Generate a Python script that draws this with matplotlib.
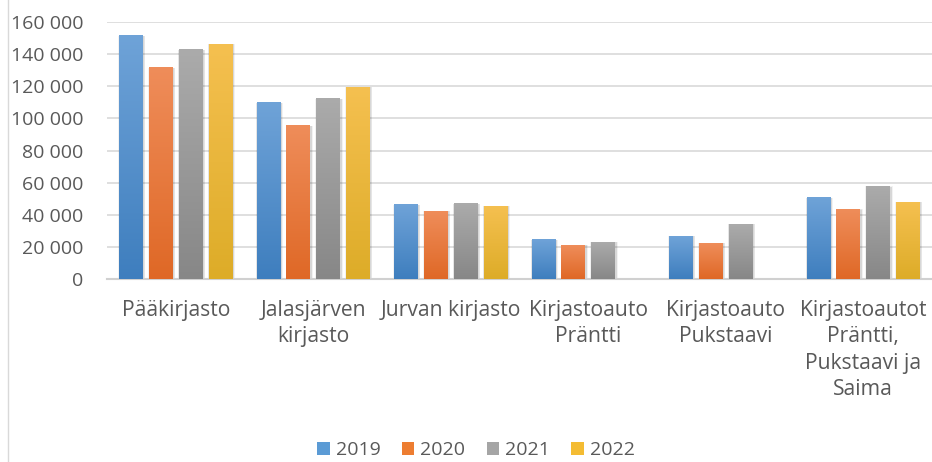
import numpy as np
import matplotlib
matplotlib.use("Agg")
import matplotlib.pyplot as plt
from matplotlib.ticker import FuncFormatter
from matplotlib.colors import LinearSegmentedColormap
from matplotlib.patches import Rectangle

plt.rcParams['font.family'] = ['Open Sans', 'DejaVu Sans']

# data
categories = ["Pääkirjasto", "Jalasjärven\nkirjasto", "Jurvan kirjasto",
              "Kirjastoauto\nPräntti", "Kirjastoauto\nPukstaavi",
              "Kirjastoautot\nPräntti,\nPukstaavi ja\nSaima"]
years = ["2019", "2020", "2021", "2022"]
v2019 = [151300, 109600, 46100, 24300, 26600, 50600]
v2020 = [131400, 95300, 42300, 21000, 22200, 43200]
v2021 = [142600, 112100, 46700, 23000, 34200, 57500]
v2022 = [146300, 119500, 45400, 0, 0, 47900]
series = [v2019, v2020, v2021, v2022]

# (top colour, bottom colour) of the gradient fill
colors = [("#6FA3D8", "#3E7EBE"),
          ("#EF8D5A", "#DF6826"),
          ("#ABABAB", "#878787"),
          ("#F5C050", "#DDAC28")]
legend_colors = ["#5B9BD5", "#ED7D31", "#A5A5A5", "#F4BC33"]

fig = plt.figure(figsize=(9.32, 4.62), dpi=100)
ax = fig.add_axes([107/932, 183/462, 825/932, 257/462])

x = np.arange(len(categories))
width = 0.174
offsets = np.array([-1.5, -0.5, 0.5, 1.5]) * 0.217

grad = np.linspace(0, 1, 256).reshape(-1, 1)
for i, vals in enumerate(series):
    cmap = LinearSegmentedColormap.from_list("g%d" % i, [colors[i][1], colors[i][0]])
    for xi, v in zip(x, vals):
        if v <= 0:
            continue
        x0 = xi + offsets[i] - width / 2
        # soft shadow
        for k, a in enumerate([0.05, 0.05, 0.06]):
            pad = (3 - k) * 0.004
            ax.add_patch(Rectangle((x0 - pad + 0.006, -600), width + 2 * pad,
                                   v + 600 + pad * 9000, facecolor="black",
                                   alpha=a, edgecolor="none", zorder=2))
        ax.imshow(grad, extent=[x0, x0 + width, 0, v], origin="lower",
                  cmap=cmap, aspect="auto", zorder=3, interpolation="bilinear")

ax.set_xlim(-0.5, len(categories) - 0.5)
ax.set_ylim(0, 160000)
ax.set_yticks(np.arange(0, 160001, 20000))
ax.yaxis.set_major_formatter(FuncFormatter(lambda v, p: f"{int(v):,}".replace(",", " ")))
ax.yaxis.grid(True, color="#D9D9D9", linewidth=1.2)
ax.set_axisbelow(True)
for s in ["top", "right", "left"]:
    ax.spines[s].set_visible(False)
ax.spines["bottom"].set_color("#D0D0D0")
ax.spines["bottom"].set_linewidth(1.5)
ax.tick_params(axis="both", length=0, labelcolor="#595959")
ax.tick_params(axis="y", pad=17, labelsize=14)
ax.set_xticks(x)
ax.set_xticklabels(categories, linespacing=1.34, va="top")
ax.tick_params(axis="x", pad=15, labelsize=15.2)

# legend
handles = [Rectangle((0, 0), 1, 1, facecolor=c, edgecolor="none") for c in legend_colors]
fig.legend(handles, years, loc="center", bbox_to_anchor=(476/932, 1 - 450/462),
           ncol=4, frameon=False, fontsize=14, handlelength=0.65, handleheight=0.65,
           columnspacing=1.1, handletextpad=0.3, labelcolor="#595959",
           borderpad=0.1)

# chart frame edge on the left
fig.add_artist(plt.Line2D([8/932, 8/932], [0, 1], color="#D9D9D9", linewidth=1))

fig.savefig("out.png", dpi=100)
